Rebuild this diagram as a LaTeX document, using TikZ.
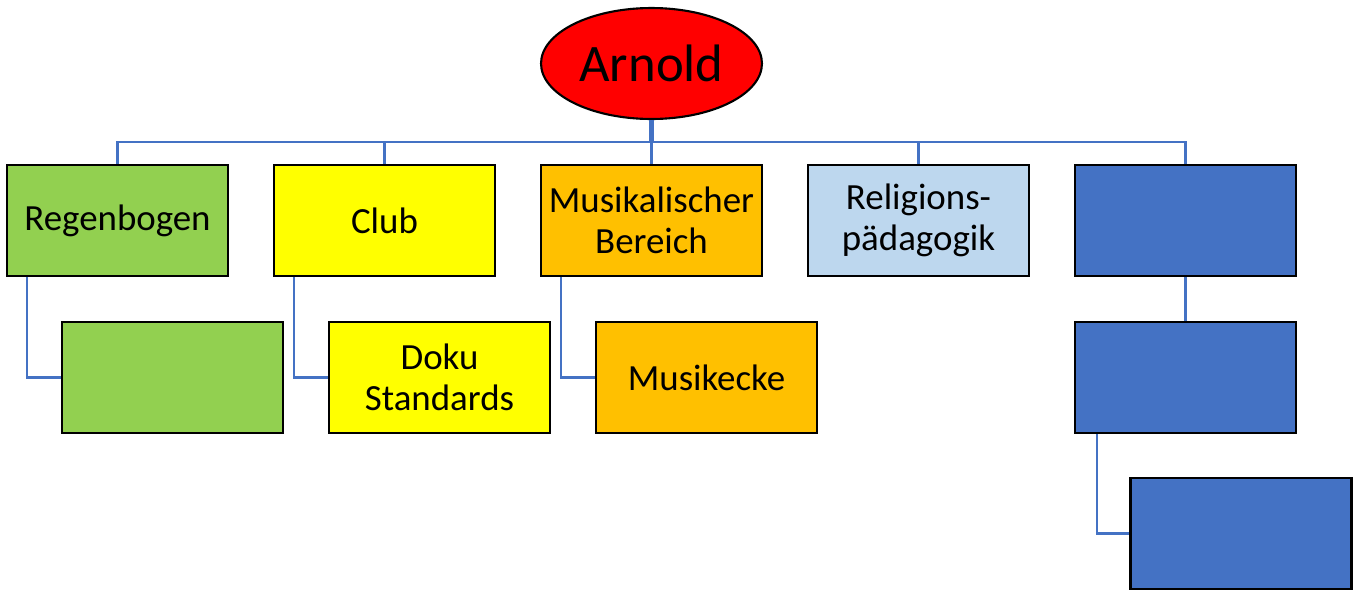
\documentclass[tikz,border=0pt]{standalone}
\usepackage{fontspec}
\setmainfont{Carlito}
\usepackage{tikz}
\usetikzlibrary{shapes.geometric, positioning}
\definecolor{lgreen}{HTML}{92D050}
\definecolor{lyellow}{HTML}{FFFF00}
\definecolor{lorange}{HTML}{FFC000}
\definecolor{lblue}{HTML}{BDD7EE}
\definecolor{mblue}{HTML}{4472C4}
\begin{document}
\begin{tikzpicture}[x=0.02cm, y=-0.02cm,
    box/.style={draw=black, line width=1.2pt, minimum width=4.42cm, minimum height=2.22cm,
      inner sep=2pt, align=center, font=\fontsize{21}{23.3}\selectfont},
    conn/.style={draw=mblue, line width=1.3pt}]
  \useasboundingbox (0,0) rectangle (1366,589);

  % Root
  \node[ellipse, draw=black, line width=1.2pt, fill=red, minimum width=4.42cm, minimum height=2.22cm,
    inner sep=0pt, font=\fontsize{30}{34}\selectfont] (arnold) at (651.5,63.5) {Arnold};
  \coordinate (bus) at (0,142);

  % First level
  \node[box, fill=lgreen] (regen) at (117.5,220.5) {Regenbogen};
  \node[box, fill=lyellow] (club) at (384.5,220.5) {Club};
  \node[box, fill=lorange] (musik) at (651.5,220.5) {Musikalischer\\Bereich};
  \node[box, fill=lblue] (relig) at (918.5,220.5) {Religions-\\pädagogik};
  \node[box, fill=mblue] (blueA) at (1185.5,220.5) {};

  % Second level
  \node[box, fill=lgreen] (regenK) at (172.5,377.5) {};
  \node[box, fill=lyellow] (doku) at (439.5,377.5) {Doku\\Standards};
  \node[box, fill=lorange] (musikecke) at (706.5,377.5) {Musikecke};
  \node[box, fill=mblue] (blueB) at (1185.5,377.5) {};
  \node[box, fill=mblue] (blueC) at (1241,533.5) {};

  % Connectors
  \draw[conn, line width=2.4pt] (arnold.south) -- (arnold.south |- bus);
  \foreach \n in {regen, club, musik, relig, blueA}
    \draw[conn] (arnold.south) -- (arnold.south |- bus) -| (\n.north);
  \draw[conn] ([xshift=0.42cm]regen.south west) |- (regenK.west);
  \draw[conn] ([xshift=0.42cm]club.south west) |- (doku.west);
  \draw[conn] ([xshift=0.42cm]musik.south west) |- (musikecke.west);
  \draw[conn] (blueA.south) -- (blueB.north);
  \draw[conn] ([xshift=0.46cm]blueB.south west) |- (blueC.west);
\end{tikzpicture}
\end{document}
